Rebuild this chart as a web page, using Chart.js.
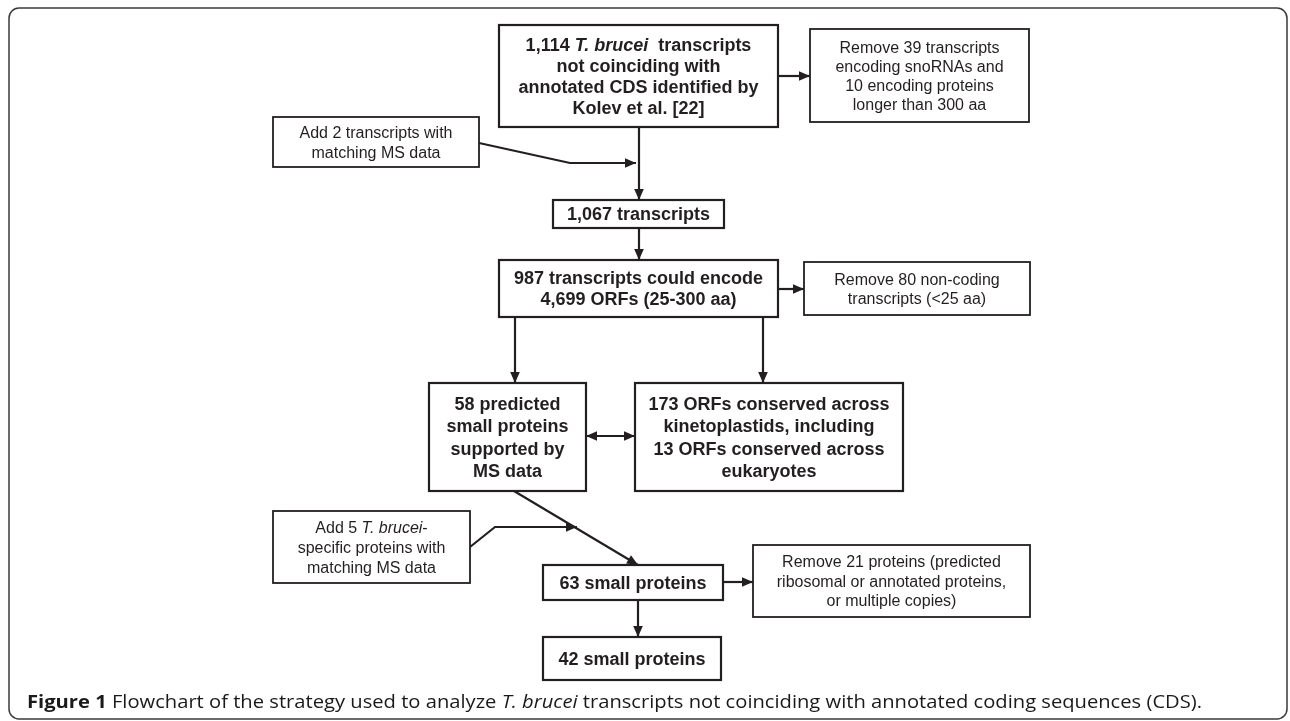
<!DOCTYPE html>
<html>
<head>
<meta charset="utf-8">
<script src="https://cdn.jsdelivr.net/npm/chart.js@4/dist/chart.umd.min.js"></script>
<style>
    html, body { margin: 0; padding: 0; background: #fff; }
    #wrap { width: 1290px; height: 721px; position: relative; }
</style>
</head>
<body>
<div id="wrap"><canvas id="flowChart"></canvas></div>
<script>
// step texts, *...* = italic part
var nodeLines = [
    ['1,114 *T. brucei*  transcripts', 'not coinciding with', 'annotated CDS identified by', 'Kolev et al. [22]'],
    ['Remove 39 transcripts', 'encoding snoRNAs and', '10 encoding proteins', 'longer than 300 aa'],
    ['Add 2 transcripts with', 'matching MS data'],
    ['1,067 transcripts'],
    ['987 transcripts could encode', '4,699 ORFs (25-300 aa)'],
    ['Remove 80 non-coding', 'transcripts (<25 aa)'],
    ['58 predicted', 'small proteins', 'supported by', 'MS data'],
    ['173 ORFs conserved across', 'kinetoplastids, including', '13 ORFs conserved across', 'eukaryotes'],
    ['Add 5 *T. brucei*-', 'specific proteins with', 'matching MS data'],
    ['63 small proteins'],
    ['Remove 21 proteins (predicted', 'ribosomal or annotated proteins,', 'or multiple copies)'],
    ['42 small proteins']
];
// main = step of the pipeline, side = added / removed note
var nodeKind = ['main', 'side', 'side', 'main', 'main', 'side', 'main', 'main', 'side', 'main', 'side', 'main'];

// which step leads to which (from, to)
var edgeFrom = [0, 0, 2, 3, 4, 4, 4, 6, 6, 8, 9, 9];
var edgeTo   = [3, 1, 3, 4, 5, 6, 7, 7, 9, 9, 10, 11];

var captionParts = [
    ['Figure 1', 'bold'],
    [' Flowchart of the strategy used to analyze ', 'normal'],
    ['T. brucei', 'italic'],
    [' transcripts not coinciding with annotated coding sequences (CDS).', 'normal']
];

// ---- layout (scale units = picture pixels) ----
var nodeBoxes = [
    [499, 25, 778, 127],
    [810, 29, 1029, 122],
    [273, 117, 479, 167],
    [553, 200, 724, 228],
    [499, 260, 778, 317],
    [804, 262, 1030, 315],
    [429, 383, 586, 491],
    [635, 383, 903, 491],
    [273, 511, 470, 583],
    [543, 565, 723, 600],
    [753, 545, 1030, 617],
    [543, 637, 721, 680]
];
var nodeGap = [21, 19, 20, 21, 21, 19, 22.5, 22.5, 20, 21, 19.5, 21];

var edgePaths = [
    [[639, 127], [639, 200]],
    [[778, 76], [810, 76]],
    [[479, 143], [570, 163], [636, 163]],
    [[639, 228], [639, 260]],
    [[778, 289], [804, 289]],
    [[515, 317], [515, 383]],
    [[763, 317], [763, 383]],
    [[586, 436], [635, 436]],
    [[514, 491], [638, 565]],
    [[470, 547], [495, 527], [577, 527]],
    [[723, 582], [753, 582]],
    [[638, 600], [638, 637]]
];
var edgeBoth = [false, false, false, false, false, false, false, true, false, false, false, false];

var INK = '#231f20';
var BOX_FONT = '"Liberation Sans", Arial, sans-serif';
var CAP_FONT = '"Open Sans", "Liberation Sans", sans-serif';

document.addEventListener('DOMContentLoaded', function () {
    FlowChart();
});

function ParseRuns(str) {
    var parts = str.split('*');
    var runs = [];
    for (var i = 0; i < parts.length; i++) {
        if (parts[i] !== '') runs.push({ t: parts[i], it: i % 2 === 1 });
    }
    return runs;
}

function DrawRuns(ctx, runs, cx, base, size, weight) {
    var total = 0;
    for (var i = 0; i < runs.length; i++) {
        ctx.font = (runs[i].it ? 'italic ' : '') + weight + ' ' + size + 'px ' + BOX_FONT;
        runs[i].w = ctx.measureText(runs[i].t).width;
        total += runs[i].w;
    }
    var x = cx - total / 2;
    for (var j = 0; j < runs.length; j++) {
        ctx.font = (runs[j].it ? 'italic ' : '') + weight + ' ' + size + 'px ' + BOX_FONT;
        ctx.fillText(runs[j].t, x, base);
        x += runs[j].w;
    }
}

function Arrowhead(ctx, a, b) {
    var ang = Math.atan2(b.y - a.y, b.x - a.x);
    var len = 11, half = 4.8;
    ctx.beginPath();
    ctx.moveTo(b.x, b.y);
    ctx.lineTo(b.x - len * Math.cos(ang) + half * Math.sin(ang), b.y - len * Math.sin(ang) - half * Math.cos(ang));
    ctx.lineTo(b.x - len * Math.cos(ang) - half * Math.sin(ang), b.y - len * Math.sin(ang) + half * Math.cos(ang));
    ctx.closePath();
    ctx.fill();
}

function CapFont(style) {
    if (style === 'bold') return 'bold 18px ' + CAP_FONT;
    if (style === 'italic') return 'italic 18px ' + CAP_FONT;
    return '18px ' + CAP_FONT;
}

var flowPlugin = {
    id: 'flowPlugin',
    beforeDatasetsDraw: function (chart) {
        var ctx = chart.ctx;
        var sx = chart.scales.x, sy = chart.scales.y;
        // outer frame
        ctx.save();
        ctx.strokeStyle = '#3a3a3a';
        ctx.lineWidth = 1.5;
        var fx1 = sx.getPixelForValue(9), fy1 = sy.getPixelForValue(8);
        var fx2 = sx.getPixelForValue(1287), fy2 = sy.getPixelForValue(719);
        ctx.beginPath();
        ctx.roundRect(fx1, fy1, fx2 - fx1, fy2 - fy1, 10);
        ctx.stroke();
        ctx.restore();
    },
    afterDatasetsDraw: function (chart) {
        var ctx = chart.ctx;
        var sx = chart.scales.x, sy = chart.scales.y;
        ctx.save();
        ctx.fillStyle = INK;
        // arrow heads
        chart.data.datasets.forEach(function (ds, i) {
            var meta = chart.getDatasetMeta(i).data;
            var n = meta.length;
            Arrowhead(ctx, meta[n - 2], meta[n - 1]);
            if (edgeBoth[i]) Arrowhead(ctx, meta[1], meta[0]);
        });
        // boxes
        for (var k = 0; k < nodeBoxes.length; k++) {
            var b = nodeBoxes[k];
            var x1 = sx.getPixelForValue(b[0]), y1 = sy.getPixelForValue(b[1]);
            var x2 = sx.getPixelForValue(b[2]), y2 = sy.getPixelForValue(b[3]);
            var main = nodeKind[k] === 'main';
            ctx.fillStyle = '#fff';
            ctx.fillRect(x1, y1, x2 - x1, y2 - y1);
            ctx.strokeStyle = INK;
            ctx.lineWidth = main ? 2.2 : 1.8;
            ctx.strokeRect(x1, y1, x2 - x1, y2 - y1);

            var size = main ? 18 : 16;
            var weight = main ? 'bold' : 'normal';
            var lines = nodeLines[k];
            var cx = (x1 + x2) / 2, cy = (y1 + y2) / 2;
            var cap = size * 0.716;
            ctx.fillStyle = INK;
            ctx.textBaseline = 'alphabetic';
            for (var l = 0; l < lines.length; l++) {
                var mid = cy + (l - (lines.length - 1) / 2) * nodeGap[k];
                DrawRuns(ctx, ParseRuns(lines[l]), cx, mid + cap / 2, size, weight);
            }
        }
        // caption, squeezed to the width it has in the figure
        var capX = sx.getPixelForValue(27), capEnd = sx.getPixelForValue(1202);
        var capBase = sy.getPixelForValue(708);
        var total = 0, widths = [];
        captionParts.forEach(function (p) {
            ctx.font = CapFont(p[1]);
            var w = ctx.measureText(p[0]).width;
            widths.push(w);
            total += w;
        });
        ctx.translate(capX, capBase);
        ctx.scale((capEnd - capX) / total, 1);
        var xx = 0;
        captionParts.forEach(function (p, i) {
            ctx.font = CapFont(p[1]);
            ctx.fillStyle = '#1a1a1a';
            ctx.fillText(p[0], xx, 0);
            xx += widths[i];
        });
        ctx.restore();
    }
};

function FlowChart() {
    var canvas = document.getElementById('flowChart').getContext('2d');

    var datasets = [];
    for (var i = 0; i < edgePaths.length; i++) {
        datasets.push({
            label: 'edge ' + edgeFrom[i] + '-' + edgeTo[i],
            data: edgePaths[i].map(function (p) { return { x: p[0], y: p[1] }; }),
            showLine: true,
            borderColor: INK,
            borderWidth: 2.2,
            pointRadius: 0,
            tension: 0,
            fill: false
        });
    }

    new Chart(canvas, {
        type: 'scatter',
        data: { datasets: datasets },
        options: {
            responsive: true,
            maintainAspectRatio: false,
            animation: false,
            layout: { padding: 0 },
            plugins: { legend: { display: false }, tooltip: { enabled: false } },
            scales: {
                x: { type: 'linear', min: 0, max: 1290, display: false },
                y: { type: 'linear', min: 0, max: 721, reverse: true, display: false }
            }
        },
        plugins: [flowPlugin]
    });
}
</script>
</body>
</html>
